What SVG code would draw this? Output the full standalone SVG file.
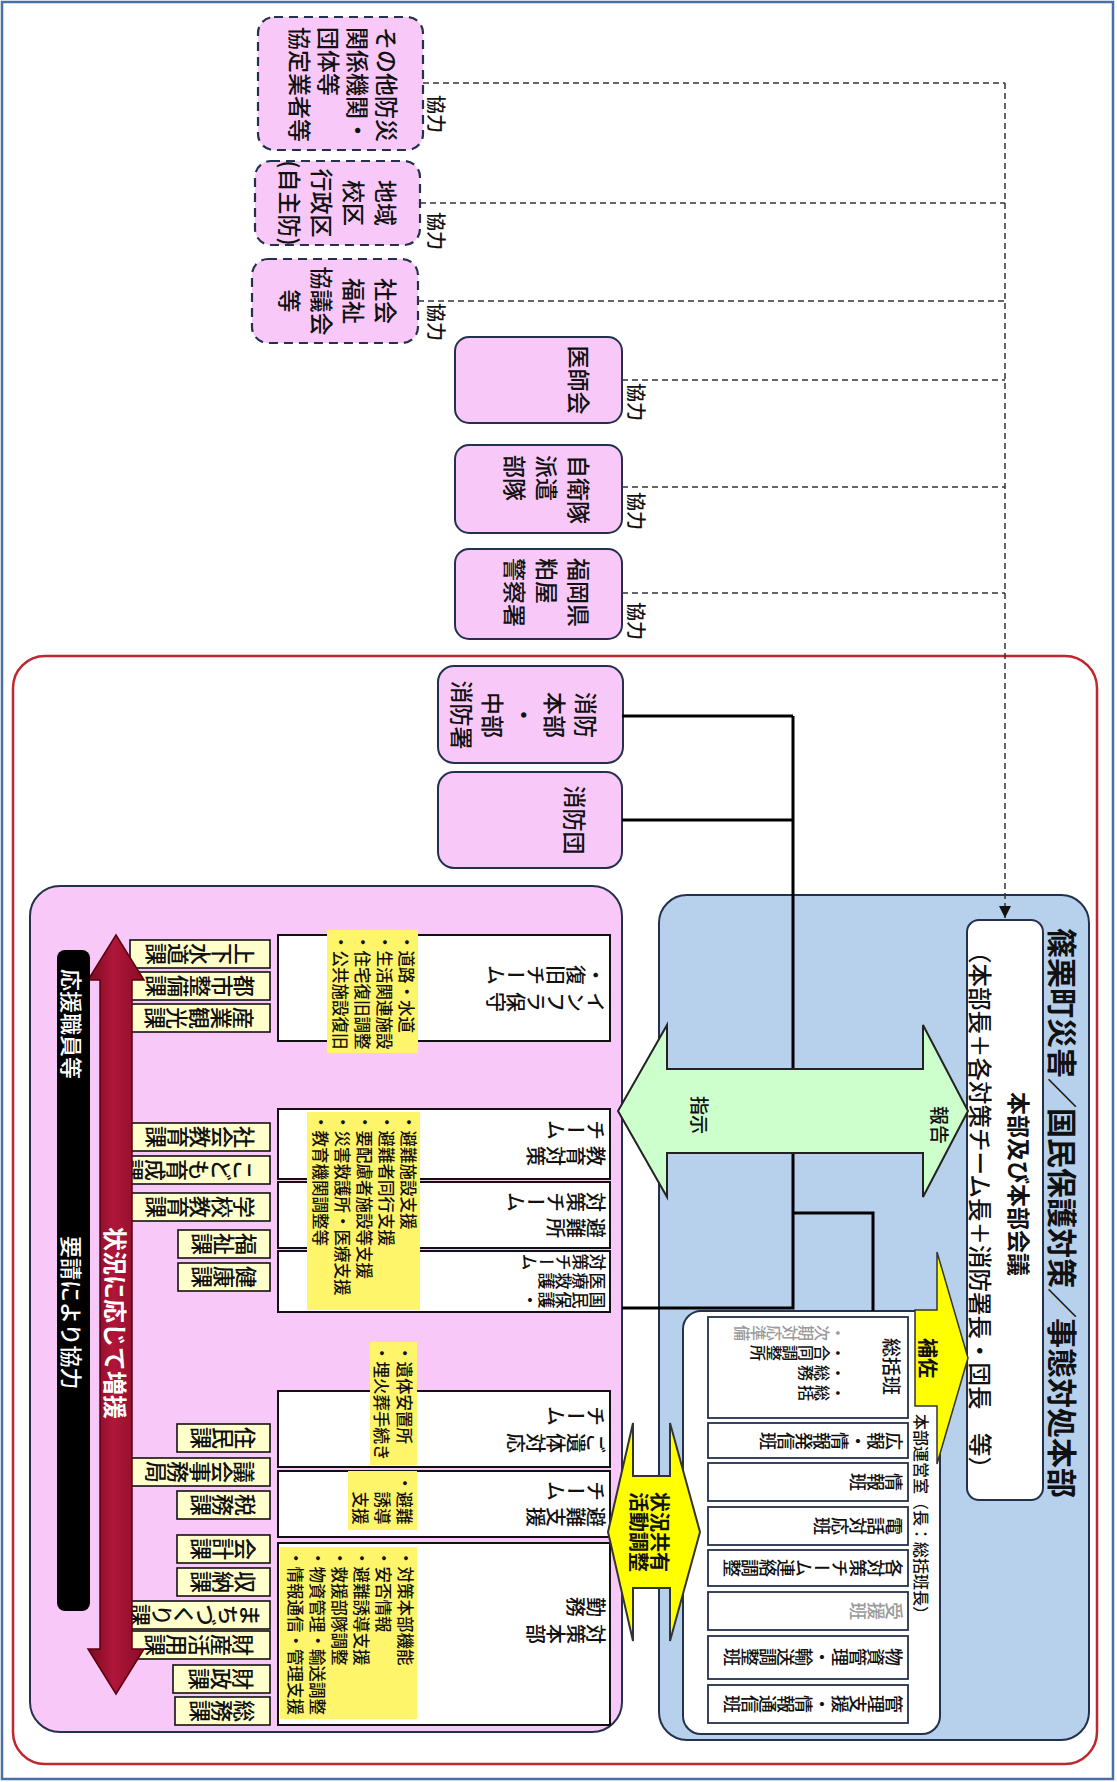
<svg xmlns="http://www.w3.org/2000/svg" width="1117" height="1782" viewBox="0 0 1117 1782">
<defs>
<style>
text{font-family:"Noto Sans CJK JP","Noto Sans CJK SC",sans-serif;fill:#111;font-weight:500;}
.h{dominant-baseline:central;}
.v{writing-mode:vertical-rl;dominant-baseline:central;}
.node{fill:#F8C9F8;stroke:#24314D;stroke-width:2;}
.dnode{fill:#F8C9F8;stroke:#24314D;stroke-width:2.2;stroke-dasharray:9 6;}
.ka{fill:#FFFFCC;stroke:#111;stroke-width:1.6;}
.team{fill:#fff;stroke:#111;stroke-width:2;}
.hl{fill:#FFF56A;}
.han{fill:#fff;stroke:#24314D;stroke-width:1.8;}
.dash{fill:none;stroke:#333;stroke-width:1.5;stroke-dasharray:6 4;}
.solid{fill:none;stroke:#000;stroke-width:3;}
.w{fill:#fff;}
.b{font-weight:bold;}
.gray{fill:#9a9a9a;}
</style>
<marker id="ah" viewBox="0 0 10 10" refX="10" refY="5" markerWidth="12" markerHeight="12" markerUnits="userSpaceOnUse" orient="auto"><path d="M0,0L10,5L0,10z" fill="#111"/></marker>
<linearGradient id="red" x1="0" y1="0" x2="1" y2="0"><stop offset="0" stop-color="#7a0a20"/><stop offset="0.45" stop-color="#b0163a"/><stop offset="1" stop-color="#8a0c26"/></linearGradient>
</defs>
<rect x="2" y="2" width="1111" height="1777" fill="#fff" stroke="#4A6FA5" stroke-width="2.5"/>
<rect id="red-frame" x="13" y="656" width="1084" height="1108" rx="32" fill="none" stroke="#C0262D" stroke-width="2.5"/>

<g id="n-sonota">
<rect class="dnode" x="258" y="17" width="165" height="133" rx="16"/>
<text class="h" font-size="23" transform="translate(388,27) rotate(90)"><tspan x="0" y="0">その他防災</tspan><tspan x="0" y="29">関係機関・</tspan><tspan x="0" y="58">団体等</tspan><tspan x="0" y="87">協定業者等</tspan></text>
</g>
<g id="n-chiiki">
<rect class="dnode" x="255" y="161" width="165" height="84" rx="16"/>
<text class="h" font-size="23" text-anchor="middle" transform="translate(387,203) rotate(90)"><tspan x="0" y="0">地域</tspan><tspan x="0" y="32">校区</tspan><tspan x="0" y="64">行政区</tspan><tspan x="0" y="96">(自主防)</tspan></text>
</g>
<g id="n-shakyo">
<rect class="dnode" x="252" y="259" width="166" height="84" rx="16"/>
<text class="h" font-size="23" text-anchor="middle" transform="translate(387,301) rotate(90)"><tspan x="0" y="0">社会</tspan><tspan x="0" y="32">福祉</tspan><tspan x="0" y="64">協議会</tspan><tspan x="0" y="96">等</tspan></text>
</g>
<g id="n-ishikai">
<rect class="node" x="455" y="337" width="167" height="86" rx="14"/>
<text class="h" font-size="23" text-anchor="middle" transform="translate(580,380) rotate(90)">医師会</text>
</g>
<g id="n-jieitai">
<rect class="node" x="455" y="445" width="167" height="88" rx="14"/>
<text class="h" font-size="23" transform="translate(580,455) rotate(90)"><tspan x="0" y="0">自衛隊</tspan><tspan x="0" y="32">派遣</tspan><tspan x="0" y="64">部隊</tspan></text>
</g>
<g id="n-police">
<rect class="node" x="455" y="549" width="167" height="90" rx="14"/>
<text class="h" font-size="23" transform="translate(580,558) rotate(90)"><tspan x="0" y="0">福岡県</tspan><tspan x="0" y="32">粕屋</tspan><tspan x="0" y="64">警察署</tspan></text>
</g>
<g id="labels-kyoryoku">
<text class="h" font-size="19" transform="translate(437,95) rotate(90)">協力</text>
<text class="h" font-size="19" transform="translate(437,212) rotate(90)">協力</text>
<text class="h" font-size="19" transform="translate(437,303) rotate(90)">協力</text>
<text class="h" font-size="19" transform="translate(637,383) rotate(90)">協力</text>
<text class="h" font-size="19" transform="translate(637,492) rotate(90)">協力</text>
<text class="h" font-size="19" transform="translate(637,602) rotate(90)">協力</text>
</g>
<g id="n-shobohonbu">
<rect class="node" x="438" y="666" width="185" height="97" rx="16"/>
<text class="h" font-size="23" text-anchor="middle" transform="translate(587,715) rotate(90)"><tspan x="0" y="0">消防</tspan><tspan x="0" y="31">本部</tspan><tspan x="0" y="62">・</tspan><tspan x="0" y="93">中部</tspan><tspan x="0" y="124">消防署</tspan></text>
</g>
<g id="n-shobodan">
<rect class="node" x="438" y="772" width="184" height="96" rx="16"/>
<text class="h" font-size="23" text-anchor="middle" transform="translate(576,820) rotate(90)">消防団</text>
</g>

<g id="n-honbu">
<rect x="659" y="895" width="430" height="845" rx="28" fill="#B7D1EC" stroke="#24314D" stroke-width="2"/>
<text class="h b" font-size="30" transform="translate(1064,928) rotate(90)">篠栗町災害／国民保護対策／事態対処本部</text>
</g>
<g id="n-kaigi">
<rect x="967" y="920" width="76" height="580" rx="12" fill="#fff" stroke="#24314D" stroke-width="2"/>
<text class="h b" font-size="23" transform="translate(1020,1092) rotate(90)">本部及び本部会議</text>
<text class="h" font-size="23.5" text-anchor="middle" transform="translate(981,1210) rotate(90)">（本部長＋各対策チーム長＋消防署長・団長　等）</text>
</g>
<g id="n-uneishitsu">
<rect x="683" y="1311" width="257" height="423" rx="18" fill="#fff" stroke="#24314D" stroke-width="2"/>
<text class="h" font-size="16" transform="translate(922,1414) rotate(90)">本部運営室（長：総括班長）</text>
<rect class="han" x="708" y="1317" width="200" height="101"/>
<text class="h" font-size="19" transform="translate(892,1338) rotate(90)">総括班</text>
<text class="v" font-size="16" transform="translate(846,1393) rotate(90)"><tspan x="0" y="0">・総括</tspan><tspan x="-20" y="0">・総務</tspan><tspan x="-40" y="0">・合同調整所</tspan><tspan x="-60" y="0" class="gray">・次期対応準備</tspan></text>
<rect class="han" x="708" y="1423" width="200" height="35"/>
<text class="v" font-size="18" transform="translate(903,1441) rotate(90)">広報・情報発信班</text>
<rect class="han" x="708" y="1463" width="200" height="38"/>
<text class="v" font-size="18" transform="translate(903,1482) rotate(90)">情報班</text>
<rect class="han" x="708" y="1507" width="200" height="38"/>
<text class="v" font-size="18" transform="translate(903,1526) rotate(90)">電話対応班</text>
<rect class="han" x="708" y="1550" width="200" height="36"/>
<text class="v" font-size="18" transform="translate(903,1568) rotate(90)">各対策チーム連絡調整</text>
<rect class="han" x="708" y="1592" width="200" height="38"/>
<text class="v gray" font-size="18" transform="translate(903,1611) rotate(90)">受援班</text>
<rect class="han" x="708" y="1636" width="200" height="43"/>
<text class="v" font-size="18" transform="translate(903,1657) rotate(90)">物資管理・輸送調整班</text>
<rect class="han" x="708" y="1685" width="200" height="38"/>
<text class="v" font-size="18" transform="translate(903,1704) rotate(90)">管理支援・情報通信班</text>
</g>

<g id="n-teams">
<rect x="30" y="886" width="592" height="846" rx="30" fill="#F8C9F8" stroke="#24314D" stroke-width="2"/>
<rect class="team" x="278" y="935" width="332" height="106"/>
<rect class="team" x="278" y="1109" width="332" height="70"/>
<rect class="team" x="278" y="1182" width="332" height="66"/>
<rect class="team" x="278" y="1251" width="332" height="61"/>
<rect class="team" x="278" y="1391" width="332" height="76"/>
<rect class="team" x="278" y="1471" width="332" height="66" fill="#FFFFCC"/>
<rect class="team" x="278" y="1543" width="332" height="182"/>
<rect class="hl" x="327" y="930" width="91" height="123"/>
<rect class="hl" x="307" y="1112" width="113" height="198"/>
<rect class="hl" x="370" y="1342" width="47" height="123"/>
<rect class="hl" x="348" y="1471" width="69" height="59"/>
<rect class="hl" x="280" y="1547" width="137" height="172"/>
<text class="v" font-size="20" transform="translate(606,1002) rotate(90)"><tspan x="0" y="0">インフラ保守</tspan><tspan x="-27" y="0">・復旧チーム</tspan></text>
<text class="v" font-size="20" transform="translate(606,1156) rotate(90)"><tspan x="0" y="0">教育対策</tspan><tspan x="-26" y="0">チーム</tspan></text>
<text class="v" font-size="20" transform="translate(606,1228) rotate(90)"><tspan x="0" y="0">避難所</tspan><tspan x="-26" y="0">対策チーム</tspan></text>
<text class="v" font-size="17" transform="translate(606,1300) rotate(90)"><tspan x="0" y="0">国民保護・</tspan><tspan x="-19" y="0">医療救護</tspan><tspan x="-38" y="0">対策チーム</tspan></text>
<text class="v" font-size="20" transform="translate(606,1443) rotate(90)"><tspan x="0" y="0">ご遺体対応</tspan><tspan x="-27" y="0">チーム</tspan></text>
<text class="v" font-size="20" transform="translate(606,1517) rotate(90)"><tspan x="0" y="0">避難支援</tspan><tspan x="-26" y="0">チーム</tspan></text>
<text class="v" font-size="20" transform="translate(606,1634) rotate(90)"><tspan x="0" y="0">対策本部</tspan><tspan x="-27" y="0">勤務</tspan></text>
<text class="h" font-size="16.5" transform="translate(407,934) rotate(90)"><tspan x="0" y="0">・道路・水道</tspan><tspan x="0" y="22">・生活関連施設</tspan><tspan x="0" y="44">・住宅復旧調整</tspan><tspan x="0" y="66">・公共施設復旧</tspan></text>
<text class="h" font-size="16.5" transform="translate(409,1114) rotate(90)"><tspan x="0" y="0">・避難施設支援</tspan><tspan x="0" y="22">・避難者同行支援</tspan><tspan x="0" y="44">・要配慮者施設等支援</tspan><tspan x="0" y="66">・災害救護所・医療支援</tspan><tspan x="0" y="88">・教育機関調整等</tspan></text>
<text class="h" font-size="16.5" transform="translate(405,1345) rotate(90)"><tspan x="0" y="0">・遺体安置所</tspan><tspan x="0" y="23">・埋火葬手続き</tspan></text>
<text class="h" font-size="16.5" transform="translate(405,1475) rotate(90)"><tspan x="0" y="0">・避難</tspan><tspan x="0" y="22">　誘導</tspan><tspan x="0" y="44">　支援</tspan></text>
<text class="h" font-size="16.5" transform="translate(406,1550) rotate(90)"><tspan x="0" y="0">・対策本部機能</tspan><tspan x="0" y="22">・安否情報</tspan><tspan x="0" y="44">・避難誘導支援</tspan><tspan x="0" y="66">・救援部隊調整</tspan><tspan x="0" y="88">・物資管理・輸送調整</tspan><tspan x="0" y="110">・情報通信・管理支援</tspan></text>
</g>
<g id="n-ka">
<rect class="ka" x="130" y="940" width="140" height="28"/><text class="v" font-size="22" text-anchor="middle" transform="translate(200,954) rotate(90)">上下水道課</text>
<rect class="ka" x="131" y="972" width="139" height="28"/><text class="v" font-size="22" text-anchor="middle" transform="translate(200,986) rotate(90)">都市整備課</text>
<rect class="ka" x="128" y="1004" width="142" height="28"/><text class="v" font-size="22" text-anchor="middle" transform="translate(199,1018) rotate(90)">産業観光課</text>
<rect class="ka" x="131" y="1123" width="139" height="28"/><text class="v" font-size="22" text-anchor="middle" transform="translate(200,1137) rotate(90)">社会教育課</text>
<rect class="ka" x="107" y="1156" width="163" height="28"/><text class="v" font-size="22" text-anchor="middle" transform="translate(188,1170) rotate(90)">こども育成課</text>
<rect class="ka" x="130" y="1193" width="140" height="28"/><text class="v" font-size="22" text-anchor="middle" transform="translate(200,1207) rotate(90)">学校教育課</text>
<rect class="ka" x="178" y="1230" width="92" height="28"/><text class="v" font-size="22" text-anchor="middle" transform="translate(224,1244) rotate(90)">福祉課</text>
<rect class="ka" x="178" y="1263" width="92" height="28"/><text class="v" font-size="22" text-anchor="middle" transform="translate(224,1277) rotate(90)">健康課</text>
<rect class="ka" x="177" y="1424" width="93" height="28"/><text class="v" font-size="22" text-anchor="middle" transform="translate(223,1438) rotate(90)">住民課</text>
<rect class="ka" x="130" y="1458" width="140" height="28"/><text class="v" font-size="22" text-anchor="middle" transform="translate(200,1472) rotate(90)">議会事務局</text>
<rect class="ka" x="177" y="1491" width="93" height="28"/><text class="v" font-size="22" text-anchor="middle" transform="translate(223,1505) rotate(90)">税務課</text>
<rect class="ka" x="177" y="1535" width="93" height="28"/><text class="v" font-size="22" text-anchor="middle" transform="translate(223,1549) rotate(90)">会計課</text>
<rect class="ka" x="177" y="1568" width="93" height="28"/><text class="v" font-size="22" text-anchor="middle" transform="translate(223,1582) rotate(90)">収納課</text>
<rect class="ka" x="120" y="1601" width="150" height="28"/><text class="v" font-size="22" text-anchor="middle" transform="translate(195,1615) rotate(90)">まちづくり課</text>
<rect class="ka" x="128" y="1631" width="142" height="28"/><text class="v" font-size="22" text-anchor="middle" transform="translate(199,1645) rotate(90)">財産活用課</text>
<rect class="ka" x="173" y="1665" width="97" height="28"/><text class="v" font-size="22" text-anchor="middle" transform="translate(221,1679) rotate(90)">財政課</text>
<rect class="ka" x="175" y="1697" width="95" height="28"/><text class="v" font-size="22" text-anchor="middle" transform="translate(222,1711) rotate(90)">総務課</text>
</g>
<g id="n-zoen">
<polygon points="116,935 144,980 132,980 132,1649 144,1649 116,1694 88,1649 100,1649 100,980 88,980" fill="url(#red)" stroke="#5A0010" stroke-width="1.5"/>
<text class="h b w" font-size="24" transform="translate(116,1227) rotate(90)">状況に応じて増援</text>
</g>
<g id="n-oen">
<rect x="57" y="950" width="33" height="661" rx="8" fill="#000"/>
<text class="h w" font-size="22" transform="translate(73,969) rotate(90)">応援職員等</text>
<text class="h w" font-size="22" transform="translate(73,1236) rotate(90)">要請により協力</text>
</g>

<g id="connectors">
<path class="dash" d="M423,83H1005 M420,203H1005 M418,301H1005 M622,380H1005 M622,487H1005 M622,593H1005"/>
<path class="dash" d="M1005,83V918" marker-end="url(#ah)"/>
<path class="solid" d="M622,716H793 M622,820H793 M793,716V1308H622 M793,1213H873V1311"/>
<g id="arrow-houkoku-shiji">
<polygon points="618,1111 667,1025 667,1069 923,1069 923,1025 968,1111 923,1197 923,1153 667,1153 667,1197" fill="#CCFFCC" stroke="#222" stroke-width="2"/>
<text class="h" font-size="19" text-anchor="middle" transform="translate(940,1125) rotate(90)">報告</text>
<text class="h" font-size="19" text-anchor="middle" transform="translate(700,1115) rotate(90)">指示</text>
</g>
<g id="arrow-hosa">
<polygon points="915,1310 937,1310 937,1252 968,1358 937,1464 937,1406 915,1406" fill="#FFFF00" stroke="#333" stroke-width="1.5"/>
<text class="h b" font-size="20" text-anchor="middle" transform="translate(928,1358) rotate(90)">補佐</text>
</g>
<g id="arrow-joukyou">
<polygon points="608,1532 633,1423 633,1476 670,1476 670,1423 700,1532 670,1641 670,1588 633,1588 633,1641" fill="#FFFF00" stroke="#333" stroke-width="2"/>
<text class="h b" font-size="20" text-anchor="middle" transform="translate(661,1532) rotate(90)"><tspan x="0" y="0">状況共有</tspan><tspan x="0" y="21">活動調整</tspan></text>
</g>
</g>
</svg>
